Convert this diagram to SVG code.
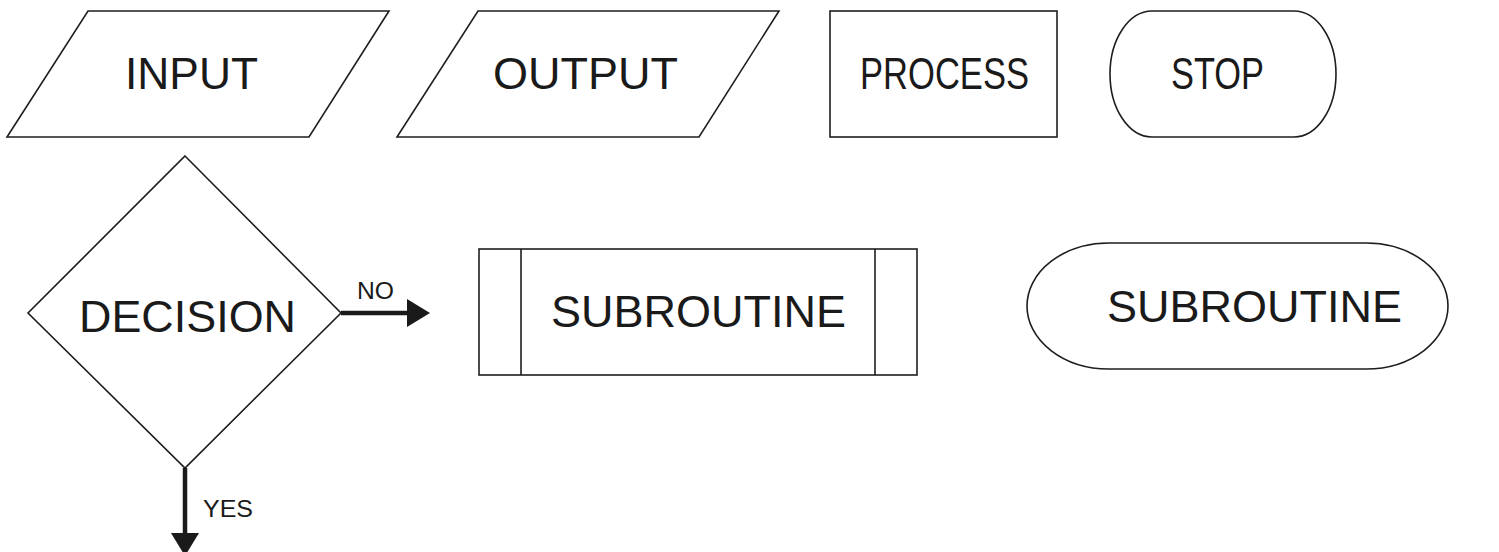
<svg xmlns="http://www.w3.org/2000/svg" width="1499" height="552" viewBox="0 0 1499 552">
<style>
.shape{fill:#fff;stroke:#1e1e1e;stroke-width:1.6}
.lbl{font-family:"Liberation Sans",Arial,sans-serif;font-size:45px;fill:#1a1a1a;text-anchor:middle}
.sm{font-family:"Liberation Sans",Arial,sans-serif;font-size:24px;fill:#1a1a1a;text-anchor:middle}
.conn{stroke:#1a1a1a;stroke-width:4.5;fill:none}
</style>
<defs>
<marker id="ah" markerUnits="userSpaceOnUse" markerWidth="24" markerHeight="28" refX="0" refY="14" orient="auto">
<path d="M0,0 L23,14 L0,28 Z" fill="#1a1a1a"/>
</marker>
</defs>
<rect width="1499" height="552" fill="#fff"/>
<g id="input">
<polygon class="shape" points="88,11 389,11 309,137 7,137"/>
<text class="lbl" x="191.5" y="89" textLength="133" lengthAdjust="spacingAndGlyphs">INPUT</text>
</g>
<g id="output">
<polygon class="shape" points="478,11 779,11 699,137 397,137"/>
<text class="lbl" x="585.5" y="89" textLength="185" lengthAdjust="spacingAndGlyphs">OUTPUT</text>
</g>
<g id="process">
<rect class="shape" x="830" y="11" width="227" height="126"/>
<text class="lbl" x="944.5" y="89" textLength="169" lengthAdjust="spacingAndGlyphs">PROCESS</text>
</g>
<g id="stop">
<rect class="shape" x="1110" y="11" width="226" height="126" rx="42" ry="63"/>
<text class="lbl" x="1217.5" y="89" textLength="93" lengthAdjust="spacingAndGlyphs">STOP</text>
</g>
<g id="decision">
<polygon class="shape" points="185,156 341,313 185,468 28,313"/>
<text class="lbl" x="187.5" y="332" textLength="217" lengthAdjust="spacingAndGlyphs">DECISION</text>
</g>
<g id="subroutine1">
<rect class="shape" x="479" y="249" width="438" height="126"/>
<line class="shape" x1="521" y1="249" x2="521" y2="375"/>
<line class="shape" x1="875" y1="249" x2="875" y2="375"/>
<text class="lbl" x="698.5" y="327" textLength="295" lengthAdjust="spacingAndGlyphs">SUBROUTINE</text>
</g>
<g id="subroutine2">
<rect class="shape" x="1027" y="243" width="421" height="126" rx="82" ry="63"/>
<text class="lbl" x="1254.5" y="322" textLength="295" lengthAdjust="spacingAndGlyphs">SUBROUTINE</text>
</g>
<g id="connectors">
<line class="conn" x1="341" y1="313" x2="407" y2="313" marker-end="url(#ah)"/>
<text class="sm" x="375.5" y="299" textLength="37" lengthAdjust="spacingAndGlyphs">NO</text>
<line class="conn" x1="185" y1="468" x2="185" y2="533" marker-end="url(#ah)"/>
<text class="sm" x="228" y="517" textLength="50" lengthAdjust="spacingAndGlyphs">YES</text>
</g>
</svg>
